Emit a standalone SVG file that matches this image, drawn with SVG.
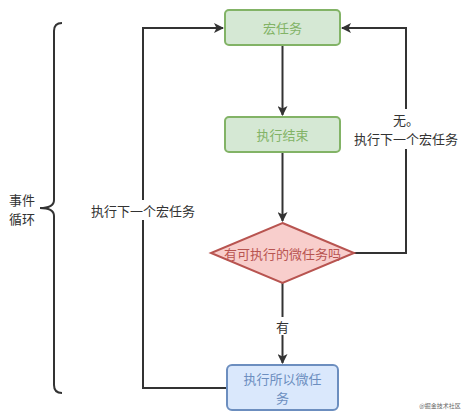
<svg xmlns="http://www.w3.org/2000/svg" width="467" height="415" viewBox="0 0 467 415">
<style>
text{font-family:"Noto Sans CJK SC","Liberation Sans",sans-serif;font-size:13px;text-anchor:middle;dominant-baseline:central}
.edge{fill:none;stroke:#333;stroke-width:2}
.green{fill:#d5e8d4;stroke:#82b366;stroke-width:2}
.green-t{fill:#82b366}
.red{fill:#f8cecc;stroke:#b85450;stroke-width:2}
.red-t{fill:#b85450}
.blue{fill:#dae8fc;stroke:#6c8ebf;stroke-width:2}
.blue-t{fill:#6c8ebf}
.lbl{fill:#333}
</style>
<defs>
<marker id="arr" viewBox="0 0 10 10" refX="9" refY="5" markerWidth="5" markerHeight="5" orient="auto" markerUnits="strokeWidth">
<path d="M0,0 L10,5 L0,10 L2.5,5 Z" fill="#333"/>
</marker>
</defs>
<rect width="467" height="415" fill="#fff"/>
<g id="brace">
<path d="M62,23 Q54,23 54,31 L54,200 Q54,208 40,208 Q54,208 54,216 L54,385 Q54,393 62,393" fill="none" stroke="#333" stroke-width="2"/>
<text class="lbl" x="22" y="198.5"><tspan x="22" y="198.5">事件</tspan><tspan x="22" y="217.5">循环</tspan></text>
</g>
<g id="connectors">
<path class="edge" d="M282.5,45 L282.5,115" marker-end="url(#arr)"/>
<path class="edge" d="M282.5,152 L282.5,221" marker-end="url(#arr)"/>
<path class="edge" d="M282.5,283 L282.5,363" marker-end="url(#arr)"/>
<rect x="275" y="317" width="15" height="18" fill="#fff"/>
<text class="lbl" x="282.5" y="326">有</text>
<path class="edge" d="M354,253 L406,253 L406,28 L342,28" marker-end="url(#arr)"/>
<rect x="352" y="109" width="108" height="40" fill="#fff"/>
<text class="lbl" x="406" y="119"><tspan x="406" y="119">无。</tspan><tspan x="406" y="138">执行下一个宏任务</tspan></text>
<path class="edge" d="M226,388 L143,388 L143,28 L223,28" marker-end="url(#arr)"/>
<rect x="89" y="200" width="108" height="20" fill="#fff"/>
<text class="lbl" x="143" y="210">执行下一个宏任务</text>
</g>
<g id="macro">
<rect class="green" x="225" y="10" width="115" height="35" rx="4"/>
<text class="green-t" x="282.5" y="27.5">宏任务</text>
</g>
<g id="done">
<rect class="green" x="225" y="117" width="115" height="35" rx="4"/>
<text class="green-t" x="282.5" y="134.5">执行结束</text>
</g>
<g id="decision">
<polygon class="red" points="282.5,223 354,253 282.5,283 211,253"/>
<text class="red-t" x="282.5" y="253">有可执行的微任务吗</text>
</g>
<g id="micro">
<rect class="blue" x="227" y="365" width="111" height="45" rx="5"/>
<text class="blue-t" x="282.5" y="378"><tspan x="282.5" y="378">执行所以微任</tspan><tspan x="282.5" y="397">务</tspan></text>
</g>
<text x="440" y="405" style="font-size:6px;fill:#666">@掘金技术社区</text>
</svg>
